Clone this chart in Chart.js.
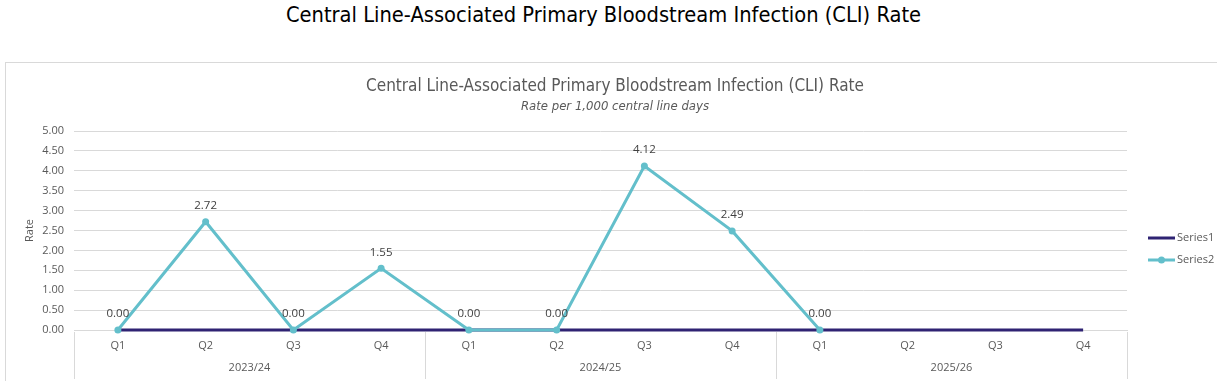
<!DOCTYPE html>
<html>
<head>
<meta charset="utf-8">
<script src="https://cdn.jsdelivr.net/npm/chart.js@4.4.1/dist/chart.umd.min.js"></script>
<style>
  html, body { margin: 0; padding: 0; background: #fff; width: 1217px; height: 381px; overflow: hidden; }
  #pageTitle { position: absolute; left: -5px; top: 1px; width: 1217px; text-align: center;
    font-family: 'Liberation Sans Narrow', 'DejaVu Sans Condensed', sans-serif; font-size: 21.7px; line-height: 28px; color: #000; }
  #box { position: absolute; left: 5px; top: 62px; width: 1240px; height: 340px; border: 1px solid #d9d9d9; }
  #wrap { position: absolute; left: 6px; top: 63px; width: 1211px; height: 318px; }
</style>
</head>
<body>
<div id="pageTitle">Central Line-Associated Primary Bloodstream Infection (CLI) Rate</div>
<div id="box"></div>
<div id="wrap"><canvas id="c"></canvas></div>
<script>
const quarters = ['Q1','Q2','Q3','Q4','Q1','Q2','Q3','Q4','Q1','Q2','Q3','Q4'];
const years = ['2023/24','2024/25','2025/26'];
const series1 = [0,0,0,0,0,0,0,0,0,0,0,0];
const series2 = [0.00, 2.72, 0.00, 1.55, 0.00, 0.00, 4.12, 2.49, 0.00, null, null, null];
const yTicks = [0,0.5,1,1.5,2,2.5,3,3.5,4,4.5,5];

const NAVY = '#2f2373';
const TEAL = '#63bfcb';
const TXT = '#595959';
const GRID = '#d9d9d9';
const FONT = "'Open Sans', sans-serif";
const TFONT = "'Liberation Sans Narrow', 'DejaVu Sans Condensed', sans-serif";

const extras = {
  id: 'extras',
  afterDraw(chart) {
    const ctx = chart.ctx;
    const x = chart.scales.x;
    const area = chart.chartArea;
    ctx.save();
    const n = quarters.length;
    const bounds = [];
    for (let g = 0; g <= years.length; g++) {
      const i = g * 4;
      let px;
      if (i === 0) px = area.left;
      else if (i >= n) px = area.right;
      else px = (x.getPixelForValue(i - 1) + x.getPixelForValue(i)) / 2;
      bounds.push(px);
    }
    ctx.strokeStyle = GRID;
    ctx.lineWidth = 1;
    bounds.forEach(px => {
      ctx.beginPath();
      ctx.moveTo(Math.round(px) + 0.5, area.bottom + 2);
      ctx.lineTo(Math.round(px) + 0.5, area.bottom + 49);
      ctx.stroke();
    });
    ctx.fillStyle = TXT;
    ctx.font = "11px " + FONT;
    ctx.textAlign = 'center';
    ctx.textBaseline = 'middle';
    years.forEach((y, g) => {
      ctx.fillText(y, (bounds[g] + bounds[g + 1]) / 2, area.bottom + 38);
    });
    const meta = chart.getDatasetMeta(1);
    ctx.fillStyle = '#404040';
    ctx.font = "11.5px " + FONT;
    series2.forEach((v, i) => {
      if (v === null) return;
      const pt = meta.data[i];
      ctx.fillText(v.toFixed(2), pt.x, pt.y - 16);
    });
    const lx = 1142, ly1 = 175, ly2 = 197;
    ctx.lineWidth = 3;
    ctx.strokeStyle = NAVY;
    ctx.beginPath(); ctx.moveTo(lx, ly1); ctx.lineTo(lx + 27, ly1); ctx.stroke();
    ctx.strokeStyle = TEAL;
    ctx.beginPath(); ctx.moveTo(lx, ly2); ctx.lineTo(lx + 27, ly2); ctx.stroke();
    ctx.fillStyle = TEAL;
    ctx.beginPath(); ctx.arc(lx + 13.5, ly2, 3.5, 0, Math.PI * 2); ctx.fill();
    ctx.fillStyle = TXT;
    ctx.textAlign = 'left';
    ctx.font = "11px " + FONT;
    ctx.fillText(chart.data.datasets[0].label, lx + 29, ly1);
    ctx.fillText(chart.data.datasets[1].label, lx + 29, ly2);
    ctx.restore();
  }
};

new Chart(document.getElementById('c'), {
  type: 'line',
  data: {
    labels: quarters,
    datasets: [
      { label: 'Series1', data: series1, borderColor: NAVY, backgroundColor: NAVY, borderWidth: 3,
        pointRadius: 0, pointHoverRadius: 0, order: 2, clip: false },
      { label: 'Series2', data: series2, borderColor: TEAL, backgroundColor: TEAL, borderWidth: 3,
        pointRadius: 3.5, pointBackgroundColor: TEAL, pointBorderWidth: 0, spanGaps: false, order: 1, clip: false }
    ]
  },
  options: {
    responsive: true,
    maintainAspectRatio: false,
    animation: false,
    layout: { padding: { left: 7, right: 0, top: 0, bottom: 0 } },
    plugins: {
      legend: { display: false },
      tooltip: { enabled: false },
      title: { display: true, text: 'Central Line-Associated Primary Bloodstream Infection (CLI) Rate',
        color: TXT, font: { family: TFONT, size: 17, weight: 'normal' },
        padding: { top: 13, bottom: 0 } },
      subtitle: { display: true, text: 'Rate per 1,000 central line days',
        color: TXT, font: { family: TFONT, size: 13, style: 'italic' },
        padding: { top: 2, bottom: 17 } }
    },
    scales: {
      x: {
        offset: true,
        grid: { display: false, drawTicks: false },
        border: { display: true, color: GRID, width: 1 },
        ticks: { color: TXT, font: { family: FONT, size: 11 }, padding: 9, maxRotation: 0, autoSkip: false },
        afterFit: s => { s.height = 51; }
      },
      y: {
        min: 0, max: 5,
        afterBuildTicks: s => { s.ticks = yTicks.map(v => ({ value: v })); },
        grid: { color: GRID, lineWidth: 1, drawTicks: false },
        border: { display: false },
        ticks: { color: TXT, font: { family: FONT, size: 11 }, padding: 10, callback: v => Number(v).toFixed(2) },
        title: { display: true, text: 'Rate', color: TXT, font: { family: FONT, size: 11 }, padding: { top: 10, bottom: 0 } },
        afterFit: s => { s.width = 61; }
      },
      y2: {
        position: 'right',
        display: true,
        grid: { display: false, drawOnChartArea: false, drawTicks: false },
        border: { display: false },
        ticks: { display: false },
        afterFit: s => { s.width = 90; }
      }
    }
  },
  plugins: [extras]
});
</script>
</body>
</html>
